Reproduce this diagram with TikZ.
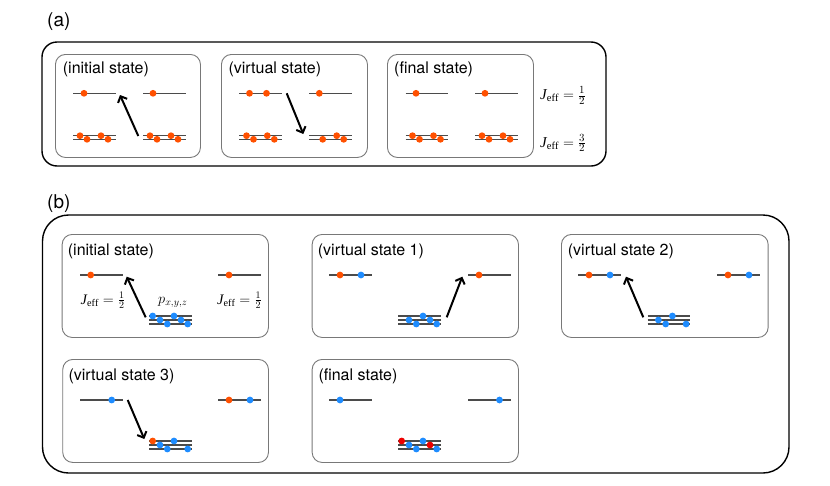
\documentclass[tikz,border=0pt]{standalone}
\usepackage{fontspec}
\setmainfont{TeX Gyre Heros}
\setmathrm{Liberation Serif}
\newfontfamily\serifrm{Liberation Serif}
\usetikzlibrary{arrows.meta}
\definecolor{dorange}{RGB}{255,80,0}
\definecolor{dblue}{RGB}{30,140,255}
\definecolor{dred}{RGB}{238,0,0}
\definecolor{levgray}{RGB}{75,75,75}
\definecolor{boxgray}{RGB}{120,120,120}
\newcommand\mylev[2]{\draw[lev] (#1,#2) -- ++(42.5,0);}
\newcommand\mydot[3]{\fill[#1] (#2,#3) circle[radius=3.4];}
\newcommand\myJ{\mbox{\serifrm\itshape J}}
\begin{document}
\begin{tikzpicture}[x=1pt,y=-1pt,
  lev/.style={draw=levgray,line width=1.2pt},
  ibox/.style={draw=boxgray,line width=0.9pt,rounded corners=10pt,anchor=north west,inner sep=0pt,minimum height=103pt},
  obox/.style={draw=black,line width=1.4pt},
  arr/.style={line width=2pt,-{Straight Barb[length=5pt,width=10pt]}},
  lbl/.style={anchor=base west,inner sep=0pt,font=\fontsize{16}{19}\selectfont},
  plbl/.style={anchor=base west,inner sep=0pt,font=\fontsize{19}{22}\selectfont},
  mlbl/.style={anchor=base west,inner sep=0pt,font=\fontsize{15}{18}\selectfont},
  mlblb/.style={anchor=base west,inner sep=0pt,font=\fontsize{14.5}{17}\selectfont}]
\useasboundingbox (0,0) rectangle (830,485);
% ---------------- panel (a)
\node[plbl] (pa) at (47,26) {(a)};
\draw[obox,rounded corners=15pt] (42,42) rectangle (606,166);
\node[ibox,minimum width=145pt] (A1) at (55,54) {};
\node[ibox,minimum width=146pt] (A2) at (221,54) {};
\node[ibox,minimum width=146pt] (A3) at (387,54) {};
\node[lbl] (tA1) at (62.7,73) {(initial state)};
\node[lbl] (tA2) at (228.3,73) {(virtual state)};
\node[lbl] (tA3) at (394,73) {(final state)};
% box A1
\mylev{73}{93.3}\mylev{143}{93.3}
\mylev{73}{135.7}\mylev{73}{139.3}\mylev{143}{135.7}\mylev{143}{139.3}
\mydot{dorange}{84}{93.3}\mydot{dorange}{153}{93.3}
\mydot{dorange}{80}{135.7}\mydot{dorange}{87}{139.3}\mydot{dorange}{101}{135.7}\mydot{dorange}{108}{139.3}
\mydot{dorange}{150}{135.7}\mydot{dorange}{157}{139.3}\mydot{dorange}{171}{135.7}\mydot{dorange}{178}{139.3}
\coordinate (a1s) at (138.3,136);\coordinate (a1e) at (120,95);
\draw[arr] (a1s) -- (a1e);
% box A2
\mylev{239}{93.3}\mylev{309}{93.3}
\mylev{239}{135.7}\mylev{239}{139.3}\mylev{309}{135.7}\mylev{309}{139.3}
\mydot{dorange}{249.5}{93.3}\mydot{dorange}{266.5}{93.3}\mydot{dorange}{319.3}{93.3}
\mydot{dorange}{246.5}{135.7}\mydot{dorange}{253.5}{139.3}\mydot{dorange}{267.3}{135.7}\mydot{dorange}{274.3}{139.3}
\mydot{dorange}{322.7}{139.3}\mydot{dorange}{336.7}{135.7}\mydot{dorange}{343.7}{139.3}
\coordinate (a2s) at (286.7,93.3);\coordinate (a2e) at (303.3,134);
\draw[arr] (a2s) -- (a2e);
% box A3
\mylev{405.5}{93.3}\mylev{475}{93.3}
\mylev{405.5}{135.7}\mylev{405.5}{139.3}\mylev{475}{135.7}\mylev{475}{139.3}
\mydot{dorange}{416}{93.3}\mydot{dorange}{485}{93.3}
\mydot{dorange}{412.5}{135.7}\mydot{dorange}{419.5}{139.3}\mydot{dorange}{433.5}{135.7}\mydot{dorange}{440.5}{139.3}
\mydot{dorange}{482}{135.7}\mydot{dorange}{489}{139.3}\mydot{dorange}{503}{135.7}\mydot{dorange}{510}{139.3}
\node[mlbl] (ja1) at (540,99.5) {$\myJ_{\mathrm{eff}}=\frac{1}{2}$};
\node[mlbl] (ja2) at (540,147) {$\myJ_{\mathrm{eff}}=\frac{3}{2}$};
% ---------------- panel (b)
\node[plbl] (pb) at (47,208) {(b)};
\draw[obox,rounded corners=26pt] (42.5,215) rectangle (789,473);
\node[ibox,minimum width=206.3pt] (B1) at (61.7,234) {};
\node[ibox,minimum width=206.3pt] (B2) at (311.7,234) {};
\node[ibox,minimum width=206.7pt] (B3) at (561,234) {};
\node[ibox,minimum width=205.7pt] (B4) at (62.3,359) {};
\node[ibox,minimum width=206.3pt] (B5) at (311.7,359) {};
\node[lbl] (tB1) at (67.7,255) {(initial state)};
\node[lbl] (tB2) at (317.7,255) {(virtual state 1)};
\node[lbl] (tB3) at (567.7,255) {(virtual state 2)};
\node[lbl] (tB4) at (68.3,380) {(virtual state 3)};
\node[lbl] (tB5) at (318.3,380) {(final state)};
% box B1
\mylev{80}{275}\mylev{218.3}{275}
\mylev{149.3}{316}\mylev{149.3}{320}\mylev{149.3}{324}
\mydot{dorange}{90.7}{275}\mydot{dorange}{229}{275}
\mydot{dblue}{152.7}{316}\mydot{dblue}{160}{320}\mydot{dblue}{167.3}{324}
\mydot{dblue}{174}{316}\mydot{dblue}{181}{320}\mydot{dblue}{187.7}{324}
\node[mlblb] (jb1) at (80.5,304) {$\myJ_{\mathrm{eff}}=\frac{1}{2}$};
\node[mlblb] (jb2) at (217,304) {$\myJ_{\mathrm{eff}}=\frac{1}{2}$};
\node[mlblb] (pxyz) at (158,303) {$p_{x,y,z}$};
\coordinate (b1s) at (145.7,317.3);\coordinate (b1e) at (126.7,276.7);
\draw[arr] (b1s) -- (b1e);
% box B2
\mylev{329.3}{275}\mylev{468.3}{275}
\mylev{398.3}{316}\mylev{398.3}{320}\mylev{398.3}{324}
\mydot{dorange}{340}{275}\mydot{dblue}{361}{275}\mydot{dorange}{479}{275}
\mydot{dblue}{409}{320}\mydot{dblue}{416.3}{324}\mydot{dblue}{423}{316}\mydot{dblue}{430}{320}\mydot{dblue}{436.7}{324}
\coordinate (b2s) at (446.7,317.3);\coordinate (b2e) at (462.3,276.7);
\draw[arr] (b2s) -- (b2e);
% box B3
\mylev{578.3}{275}\mylev{717.3}{275}
\mylev{647.7}{316}\mylev{647.7}{320}\mylev{647.7}{324}
\mydot{dorange}{589}{275}\mydot{dblue}{610}{275}\mydot{dorange}{728}{275}\mydot{dblue}{749}{275}
\mydot{dblue}{658.4}{320}\mydot{dblue}{665.7}{324}\mydot{dblue}{672.4}{316}\mydot{dblue}{686.1}{324}
\coordinate (b3s) at (643.3,317.3);\coordinate (b3e) at (626,276.7);
\draw[arr] (b3s) -- (b3e);
% box B4
\mylev{80}{400}\mylev{218.3}{400}
\mylev{149.3}{441}\mylev{149.3}{445}\mylev{149.3}{449}
\mydot{dblue}{111.7}{400}\mydot{dorange}{229}{400}\mydot{dblue}{250}{400}
\mydot{dorange}{152.7}{441}\mydot{dblue}{160}{445}\mydot{dblue}{167.3}{449}\mydot{dblue}{174}{441}\mydot{dblue}{187.7}{449}
\coordinate (b4s) at (127.7,400);\coordinate (b4e) at (144.3,439);
\draw[arr] (b4s) -- (b4e);
% box B5
\mylev{329.3}{400}\mylev{468.3}{400}
\mylev{398.3}{441}\mylev{398.3}{445}\mylev{398.3}{449}
\mydot{dblue}{340}{400}\mydot{dblue}{499.5}{400}
\mydot{dred}{401.7}{441}\mydot{dblue}{409}{445}\mydot{dblue}{416.3}{449}\mydot{dblue}{423}{441}\mydot{dred}{430}{445}\mydot{dblue}{436.7}{449}
\end{tikzpicture}
\end{document}
